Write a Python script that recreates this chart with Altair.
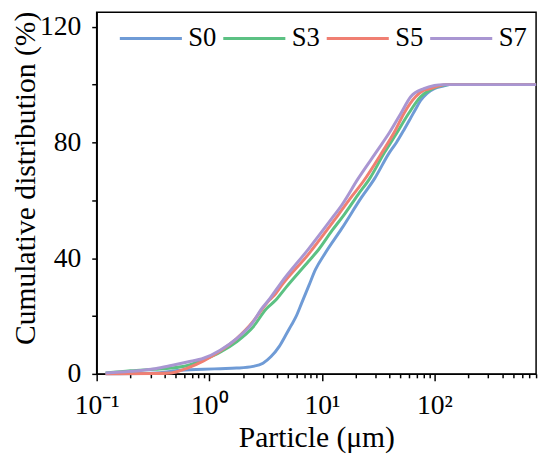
import altair as alt
import pandas as pd

series_names = ["S0", "S3", "S5", "S7"]
series_colors = ["#6f9bd6", "#5cc183", "#f07f72", "#a996d2"]

S0_x = [0.12, 0.3, 0.45, 0.52, 0.89, 1.25, 1.75, 2.45, 3.0, 3.54, 4.19, 4.8, 5.3, 5.85, 6.7, 7.65,
        8.77, 10.7, 15, 22.5, 29.4, 39.8, 46, 53.9, 61.6, 68, 75.4, 86, 98.6, 120, 137, 800]
S0_y = [0, 0.2, 0.8, 1.2, 1.6, 1.8, 2.0, 2.6, 3.7, 6.0, 9.5, 13.5, 16.5, 19.5, 25.0, 30.4,
        36.0, 41.7, 50.2, 61.0, 67.5, 76.5, 80.0, 84.5, 88.5, 91.5, 94.5, 97.0, 98.5, 99.5, 100, 100]

S3_x = [0.12, 0.2, 0.33, 0.46, 0.64, 0.89, 1.25, 1.75, 2.45, 3.2, 3.9, 4.79, 7.66, 9.37, 12.3,
        16.1, 21, 26.6, 36, 45, 59.4, 75.4, 90, 105, 137, 800]
S3_y = [0.3, 1.1, 1.6, 2.0, 2.9, 4.9, 7.5, 11.1, 16.2, 22.4, 25.5, 29.8, 39.0, 43.0, 49.5,
        55.5, 62.0, 67.5, 76.5, 82.5, 90.2, 95.8, 98.0, 99.2, 100, 100]

S5_x = [0.12, 0.33, 0.46, 0.64, 0.89, 1.25, 1.75, 2.45, 2.95, 3.42, 3.9, 4.48, 7.65, 8.2, 14,
        18.6, 23.3, 34.8, 44, 53.9, 68, 80, 92, 110, 125, 800]
S5_y = [0, 0.1, 0.3, 2.0, 4.5, 7.9, 12.2, 18.1, 22.4, 25.5, 27.8, 31.0, 41.5, 43.0, 55.0,
        61.5, 66.5, 77.0, 83.5, 90.2, 95.8, 98.0, 98.6, 99.6, 100, 100]

S7_x = [0.12, 0.2, 0.33, 0.46, 0.64, 0.89, 1.25, 1.75, 2.45, 2.9, 3.42, 4.33, 7.66, 12.7,
        15, 21, 31.5, 40, 50.6, 61.6, 80.6, 100, 120, 800]
S7_y = [0.3, 0.9, 1.8, 2.9, 4.1, 5.4, 8.2, 12.2, 17.9, 22.4, 25.8, 31.4, 43.3, 54.5,
        58.3, 67.5, 77.5, 83.5, 90.2, 95.8, 98.6, 99.7, 100, 100]

x_major = [0.1, 1, 10, 100]
x_major_labels = ["10⁻¹", "10⁰", "10¹", "10²"]
x_ticks = [round(k * 10.0 ** e, 6) for e in range(-1, 3) for k in range(1, 10) if k * 10.0 ** e <= 800]
y_ticks = [0, 20, 40, 60, 80, 100, 120]

rows = []
for name, xs, ys in zip(series_names, [S0_x, S3_x, S5_x, S7_x], [S0_y, S3_y, S5_y, S7_y]):
    for i, (xv, yv) in enumerate(zip(xs, ys)):
        rows.append({"series": name, "x": xv, "y": yv, "order": i})
df = pd.DataFrame(rows)

label_expr = " : ".join(
    f"datum.value == {v} ? '{lab}'" for v, lab in zip(x_major, x_major_labels)
) + " : ''"
major_test = " || ".join(f"datum.value == {v}" for v in x_major)

FONT = "Liberation Serif"

chart = alt.Chart(df).mark_line(strokeWidth=3, interpolate="monotone").encode(
    x=alt.X(
        "x:Q",
        scale=alt.Scale(type="log", domain=[0.1, 800], nice=False),
        axis=alt.Axis(
            title="Particle (μm)",
            values=x_ticks,
            labelExpr=label_expr,
            labelOverlap=False,
            labelFont=FONT,
            labelFontSize=28,
            labelColor="black",
            labelBaseline="alphabetic",
            labelPadding=33,
            labelFlush=False,
            tickSize={"condition": {"test": major_test, "value": 7}, "value": 4},
            tickColor="black",
            tickWidth=1.5,
            domainColor="black",
            domainWidth=1.5,
            titleFont=FONT,
            titleFontSize=30,
            titleFontWeight="normal",
            titleColor="black",
            titleBaseline="alphabetic",
            titleY=74,
            grid=False,
        ),
    ),
    y=alt.Y(
        "y:Q",
        scale=alt.Scale(domain=[0, 125], nice=False),
        axis=alt.Axis(
            title="Cumulative distribution (%)",
            values=y_ticks,
            labelExpr="datum.value % 40 == 0 ? datum.label : ''",
            labelFont=FONT,
            labelFontSize=28,
            labelColor="black",
            labelPadding=11,
            tickSize=5,
            tickColor="black",
            tickWidth=1.5,
            domainColor="black",
            domainWidth=1.5,
            titleFont=FONT,
            titleFontSize=30,
            titleFontWeight="normal",
            titleColor="black",
            titleBaseline="alphabetic",
            titleX=-63,
            titleY=168,
            grid=False,
        ),
    ),
    color=alt.Color(
        "series:N",
        scale=alt.Scale(domain=series_names, range=series_colors),
        legend=alt.Legend(
            title=None,
            orient="none",
            legendX=22,
            legendY=-6.5,
            direction="horizontal",
            symbolType="stroke",
            symbolSize=3969,
            symbolStrokeWidth=3,
            labelFont=FONT,
            labelFontSize=27,
            labelColor="black",
            labelOffset=5,
            columnPadding=0,
            padding=0,
        ),
    ),
    order="order:Q",
).properties(
    width=446,
    height=367,
    autosize=alt.AutoSizeParams(type="none"),
    padding={"left": 90, "top": 1, "right": 6, "bottom": 80},
).configure(
    font=FONT,
).configure_view(
    stroke="black",
    strokeWidth=1.5,
)

chart.save("out.html", embed_options={"renderer": "svg", "actions": False})
